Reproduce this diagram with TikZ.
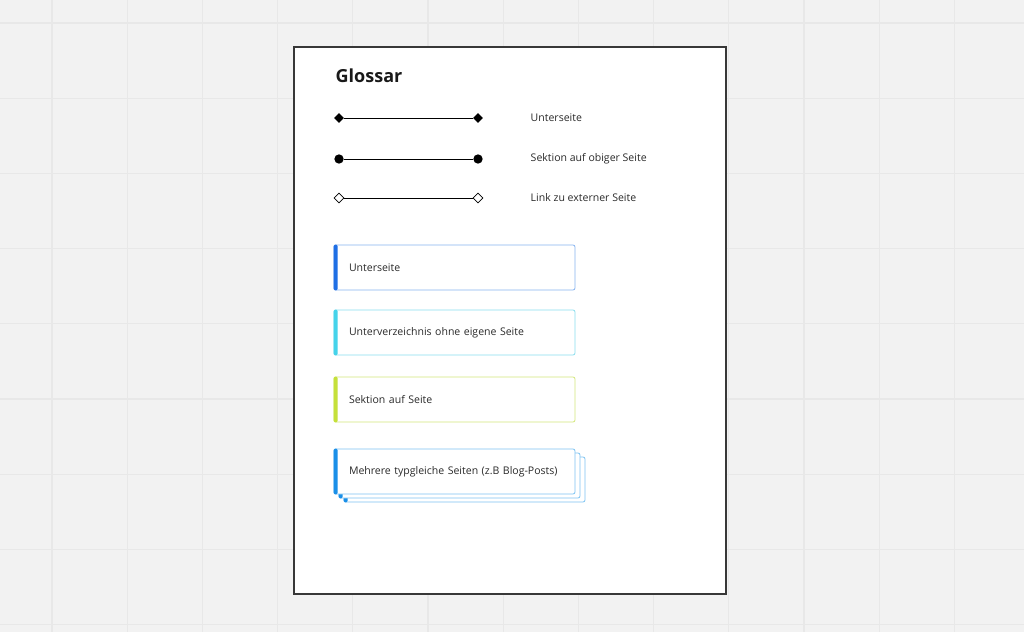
\documentclass[tikz,border=0pt]{standalone}
\usepackage{fontspec}
\setmainfont{Open Sans}
\usetikzlibrary{shapes.geometric}
\definecolor{hgrund}{HTML}{F2F2F2}
\definecolor{raster}{HTML}{E8E8E8}
\definecolor{schrift}{HTML}{2A2A2A}
\definecolor{unBalken}{HTML}{1F6FE5}
\definecolor{unRand}{HTML}{86B3F0}
\definecolor{uvBalken}{HTML}{45D3EA}
\definecolor{uvRand}{HTML}{8ADEEE}
\definecolor{skBalken}{HTML}{C5E03A}
\definecolor{skRand}{HTML}{D3E77A}
\definecolor{mtBalken}{HTML}{1A8FE8}
\definecolor{mtRand}{HTML}{7DC3F2}
\begin{document}
\begin{tikzpicture}[x=0.75pt,y=-0.75pt,
  ende/.style={inner sep=0pt,fill=black},
  beschr/.style={anchor=west,text=schrift,font=\fontsize{7.9}{9.5}\selectfont},
  kasten/.style={draw,fill=white,line width=0.6pt,rounded corners=1.5pt,
    minimum width=180.75pt,minimum height=33.75pt,inner xsep=11.25pt,
    text width=158.25pt,align=left,text=schrift,font=\fontsize{7.9}{9.5}\selectfont}]
\useasboundingbox (0,0) rectangle (1024,632);
\fill[hgrund] (0,0) rectangle (1024,632);
\foreach \i in {0,...,12} \draw[raster,line width=0.8pt] ({52+75.2*\i},0) -- ++(0,632);
\foreach \i in {0,...,8} \draw[raster,line width=0.8pt] (0,{23+75.2*\i}) -- ++(1024,0);
% Seite
\draw[fill=white,draw=black!78,line width=1.1pt] (294,47) rectangle (726,594);
\node[anchor=west,text=black!90,font=\bfseries\fontsize{13.5}{16}\selectfont] (titel) at (331,76) {Glossar};
% Linien
\node[diamond,ende,minimum size=7.5pt] (a1) at (339,118) {};
\node[diamond,ende,minimum size=7.5pt] (a2) at (478,118) {};
\draw[line width=0.6pt] (a1) -- (a2);
\node[beschr] (la) at (526,118) {Unterseite};
\node[circle,ende,minimum size=7pt] (b1) at (339,159) {};
\node[circle,ende,minimum size=7pt] (b2) at (478,159) {};
\draw[line width=0.6pt] (b1) -- (b2);
\node[beschr] (lb) at (526,159) {Sektion auf obiger Seite};
\node[diamond,draw,fill=white,inner sep=0pt,line width=0.6pt,minimum size=7.5pt] (c1) at (339,198) {};
\node[diamond,draw,fill=white,inner sep=0pt,line width=0.6pt,minimum size=7.5pt] (c2) at (478,198) {};
\draw[line width=0.6pt] (c1) -- (c2);
\node[beschr] (lc) at (526,198) {Link zu externer Seite};
% Kaesten
\node[kasten,draw=unRand] (un) at (454.5,267.5) {Unterseite};
\fill[unBalken,rounded corners=1pt] (un.north west) rectangle ([xshift=3pt]un.south west);
\node[kasten,draw=uvRand] (uv) at (454.5,332.5) {Unterverzeichnis ohne eigene Seite};
\fill[uvBalken,rounded corners=1pt] (uv.north west) rectangle ([xshift=3pt]uv.south west);
\node[kasten,draw=skRand] (sk) at (454.5,399.5) {Sektion auf Seite};
\fill[skBalken,rounded corners=1pt] (sk.north west) rectangle ([xshift=3pt]sk.south west);
\node[kasten,draw=mtRand] (mt3) at (464.5,479.5) {};
\fill[mtBalken,rounded corners=1pt] (mt3.north west) rectangle ([xshift=3pt]mt3.south west);
\node[kasten,draw=mtRand] (mt2) at (459.5,475.5) {};
\fill[mtBalken,rounded corners=1pt] (mt2.north west) rectangle ([xshift=3pt]mt2.south west);
\node[kasten,draw=mtRand] (mt) at (454.5,471.5) {Mehrere typgleiche Seiten (z.B Blog-Posts)};
\fill[mtBalken,rounded corners=1pt] (mt.north west) rectangle ([xshift=3pt]mt.south west);
\end{tikzpicture}
\end{document}
